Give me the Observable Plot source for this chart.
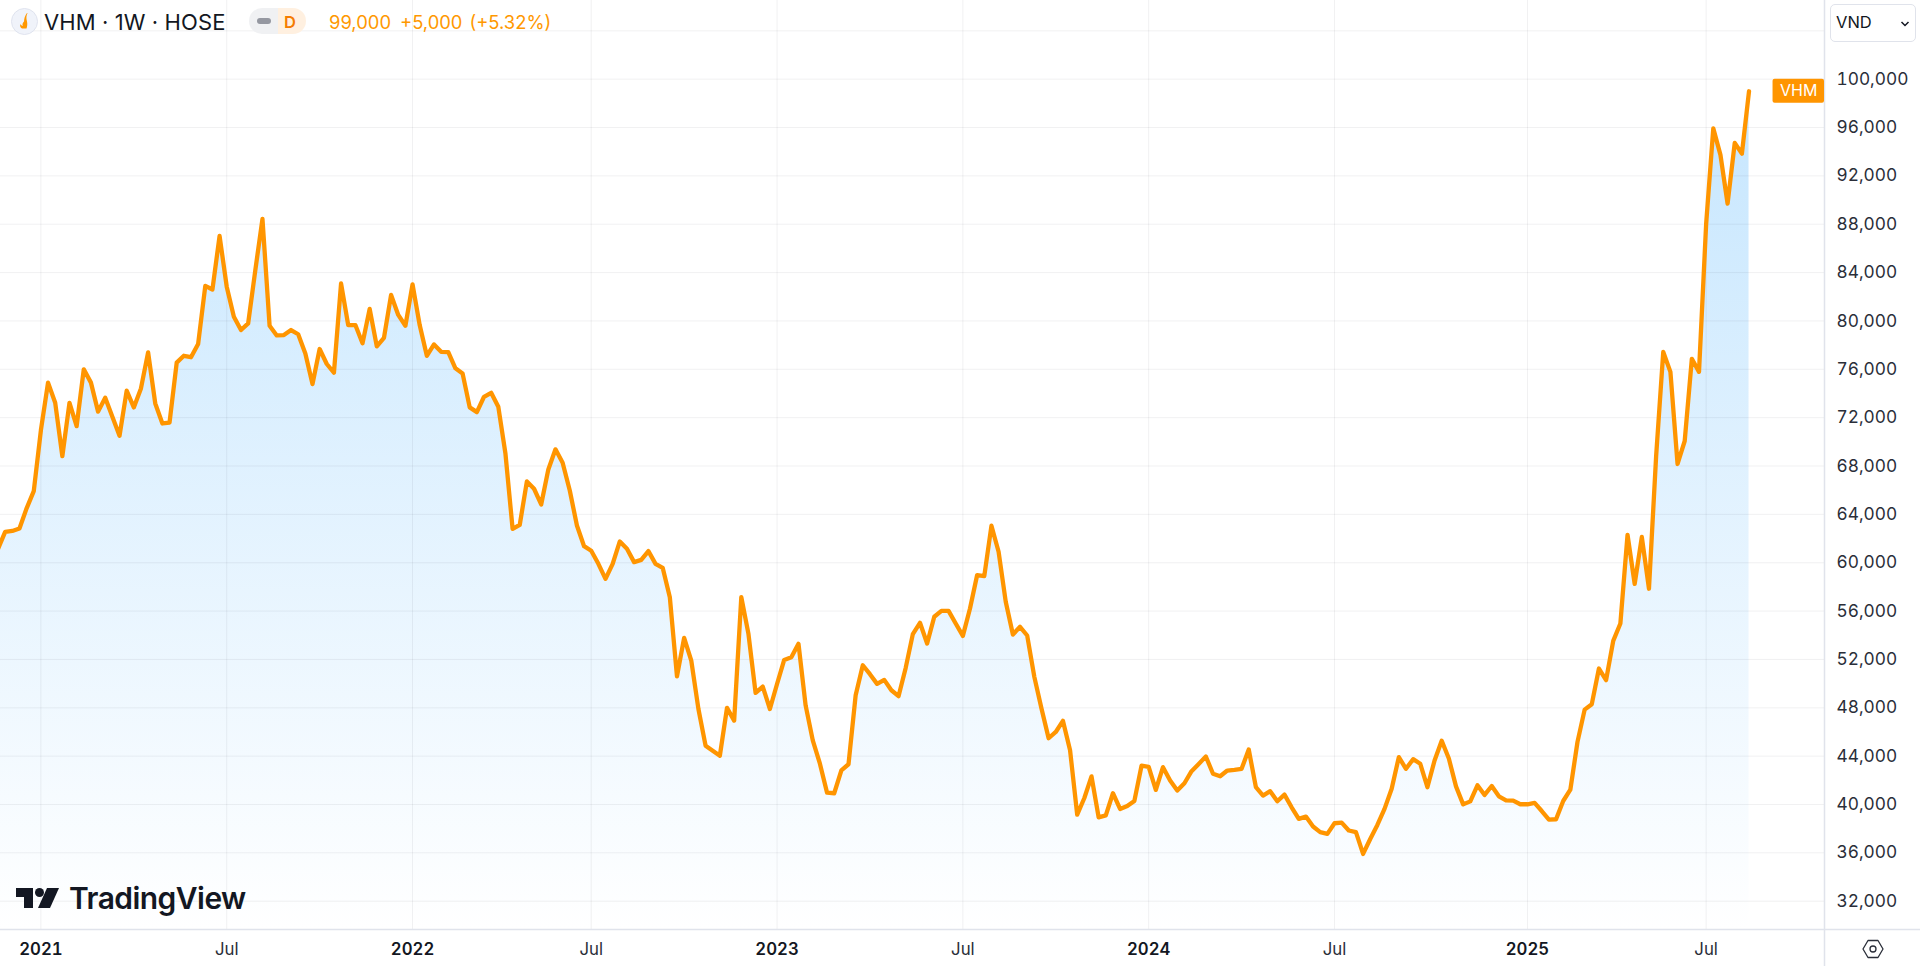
<!DOCTYPE html>
<html>
<head>
<meta charset="utf-8">
<script src="https://cdn.jsdelivr.net/npm/d3@7"></script>
<script src="https://cdn.jsdelivr.net/npm/@observablehq/plot@0.6"></script>
<style>
html,body{margin:0;padding:0;background:#fff;width:1920px;height:966px;overflow:hidden;font-family:Inter,"Noto Sans",sans-serif;color:#131722}
#chart{position:absolute;left:0;top:0}
.ov{position:absolute;white-space:nowrap}
</style>
</head>
<body>
<div id="chart"></div>
<svg class="ov" style="left:11px;top:8px" width="27" height="27" viewBox="0 0 27 27"><circle cx="13.500" cy="13.500" r="13" fill="#f0f3fa" stroke="#dfe3ee"/><path d="M16.500 5c-1.200 3-1.500 5-.5 8.500 .6 2.500 .2 5-.5 7h-4.500c-1.500-.8-2.500-2.500-1.500-4.500 .5 1.200 1.200 1.800 2.200 2-.5-1.800 0-3.300 1.300-4.500 .2-3 1-6 3-8.500z" fill="#ff9800"/></svg>
<div class="ov" style="left:44px;top:9px;font-size:22px;line-height:27px;letter-spacing:.1px;color:#131722">VHM · 1W · HOSE</div>
<div class="ov" style="left:249px;top:8px;width:57px;height:26px;border-radius:13px;background:linear-gradient(90deg,#f0f1f3 0 29px,#fff0e0 29px)"></div>
<div class="ov" style="left:257px;top:18px;width:14px;height:6px;border-radius:3px;background:#9598a1"></div>
<div class="ov" style="left:284px;top:9px;font-size:16.5px;line-height:26px;font-weight:600;color:#f57c00">D</div>
<div class="ov" style="left:329px;top:9px;font-size:18.4px;line-height:27px;color:#ff9800">99,000<span style="margin-left:9px">+5,000</span><span style="margin-left:7px">(+5.32%)</span></div>
<div class="ov" style="left:1830px;top:4px;width:84px;height:36px;border:1px solid #e0e3eb;border-radius:5px;background:#fff"></div>
<div class="ov" style="left:1836px;top:10px;font-size:16.5px;line-height:25px;color:#131722">VND</div>
<svg class="ov" style="left:1899px;top:19px" width="12" height="10" viewBox="0 0 12 10"><path d="M2.500 3l3.500 3.500L9.500 3" fill="none" stroke="#131722" stroke-width="1.500"/></svg>
<svg class="ov" style="left:16px;top:886px" width="44" height="24" viewBox="0 0 44 24"><path d="M0 2h17v20H8V11H0z" fill="#131722"/><circle cx="23.500" cy="6.500" r="4.500" fill="#131722"/><path d="M31 2h12l-9 20H22z" fill="#131722"/></svg>
<div class="ov" style="left:69px;top:880px;font-size:30px;line-height:36px;font-weight:600;letter-spacing:-.55px;color:#131722">TradingView</div>
<svg class="ov" style="left:1862px;top:938px" width="22" height="22" viewBox="0 0 22 22"><path d="M6 2.500h10L21 11l-5 8.500H6L1 11z" fill="none" stroke="#2a2e39" stroke-width="1.300" stroke-linejoin="round"/><circle cx="11" cy="11" r="3" fill="none" stroke="#2a2e39" stroke-width="1.300"/></svg>
<script>
// Weekly closes (VND), grouped by calendar year of the axis
const closes2020 = [61150,62550,62630,62830,64500,65920];
const closes2021 = [70970,74900,73230,68820,73230,71300,76000,74900,72500,73650,72080,70500,74230,72850,74420,77400,73180,71520,71600,76550,77120,77000,78100,82900,82600,87030,82840,80350,79250,79800,84200,88440,79600,78800,78830,79250,78900,77300,74780,77680,76440,75720,83100,79660,79660,78150,81000,77900,78600,82150,80500,79600];
const closes2022 = [83030,79660,77120,78060,77450,77430,76080,75660,72850,72460,73730,74060,72900,69020,62800,63140,66730,66120,64820,67720,69380,68270,65980,63080,61370,60990,59910,58670,59910,61760,61150,60050,60240,60960,59910,59580,57150,50600,53780,51900,47900,44870,44450,44040,47990,46940,57150,54110,49230,49750,47900];
const closes2023 = [49970,51960,52180,53290,48200,45300,43380,40980,40930,42830,43330,49040,51520,50780,49980,50310,49450,48960,51300,54090,55030,53320,55530,56020,56020,54970,53950,56220,58980,58900,63060,60910,56770,54060,54700,53980,50560,47940,45480,46000,46920,44490,39160,40540,42330,38940,39100,40930,39630,39880,40300,43210];
const closes2024 = [43120,41210,43090,41980,41160,41760,42760,43360,43970,42540,42340,42810,42870,42950,44550,41430,40740,41100,40270,40820,39770,38810,39000,38180,37710,37570,38450,38500,37850,37710,35910,37150,38310,39640,41300,43920,42950,43750,43370,41430,43640,45280,43800,41500,40010,40260,41590,40790,41530,40680,40350,40320,40020];
const closes2025 = [40020,40130,39460,38750,38780,40290,41230,45180,47850,48300,51250,50280,53540,54970,62300,58250,62130,57850,68800,77440,75790,68170,70070,76870,75790,88020,95930,93740,89710,94730,93840,99000];

const closes = [...closes2020,...closes2021,...closes2022,...closes2023,...closes2024,...closes2025];
const firstWeek = -closes2020.length;
const rows = closes.map((close,i)=>({week:firstWeek+i,close}));

// Axis ticks: weeks counted from the first bar of 2021
const yearWeeks = [0,52,103,155,208];
const yearLabels = ["2021","2022","2023","2024","2025"];
const julWeeks = [26,77,129,181,233];
const julLabels = ["Jul","Jul","Jul","Jul","Jul"];
const priceTicks = [32000,36000,40000,44000,48000,52000,56000,60000,64000,68000,72000,76000,80000,84000,88000,92000,96000,100000];
const gridPrices = [...priceTicks,104000];

const xDomain = [-5.653,249.56];
const yDomain = [29660,106510];
const lastRow = rows[rows.length-1];
const tagRow = [{x1:xDomain[1]-7.2,x2:xDomain[1],y1:lastRow.close-1000,y2:lastRow.close+1000,label:"VHM"}];

const defs = () => {
  const d = d3.create("svg:defs");
  const g = d.append("linearGradient").attr("id","areaFade").attr("x1",0).attr("x2",0).attr("y1",0).attr("y2",1);
  g.append("stop").attr("offset","0%").attr("stop-color","#c6e6fe");
  g.append("stop").attr("offset","100%").attr("stop-color","#ffffff");
  return d.node();
};

const gridStyle = {stroke:"#2a2e39",strokeOpacity:0.065,strokeWidth:1};
const lineColor = "#e0e3eb";
const font = 'Inter,"Noto Sans",sans-serif';

const plot = Plot.plot({
  width:1920,height:966,
  marginLeft:0,marginRight:96,marginTop:0,marginBottom:37,
  style:{fontFamily:font,background:"transparent",overflow:"visible"},
  x:{type:"linear",domain:xDomain,axis:null},
  y:{type:"linear",domain:yDomain,axis:null},
  marks:[
    defs,
    Plot.areaY(rows,{x:"week",y:"close",y1:yDomain[0],y2:"close",fill:"url(#areaFade)",curve:"linear"}),
    Plot.gridY(gridPrices,{...gridStyle}),
    Plot.gridX([...yearWeeks,...julWeeks],{...gridStyle}),
    Plot.ruleY([yDomain[0]],{stroke:lineColor,strokeWidth:1.5,insetRight:-96}),
    Plot.ruleX([xDomain[1]],{stroke:lineColor,strokeWidth:1.5,insetBottom:-37}),
    Plot.line(rows,{x:"week",y:"close",stroke:"#ff9500",strokeWidth:4.3,strokeLinejoin:"round",strokeLinecap:"round",curve:"linear"}),
    Plot.rect(tagRow,{x1:"x1",x2:"x2",y1:"y1",y2:"y2",fill:"#ff9500",r:2}),
    Plot.text(tagRow,{x:d=>(d.x1+d.x2)/2,y:lastRow.close,text:"label",fill:"#fff",fontSize:16}),
    Plot.axisY(priceTicks,{anchor:"right",label:null,tickSize:0,tickPadding:12,fontSize:17.3,fill:"#2a2e39",tickFormat:d3.format(",")}),
    Plot.axisX(yearWeeks,{anchor:"bottom",label:null,tickSize:0,tickPadding:14,fontSize:16.8,fontWeight:600,fill:"#131722",tickFormat:(d,i)=>yearLabels[yearWeeks.indexOf(d)]}),
    Plot.axisX(julWeeks,{anchor:"bottom",label:null,tickSize:0,tickPadding:14,fontSize:16.8,fill:"#2a2e39",tickFormat:(d,i)=>julLabels[julWeeks.indexOf(d)]})
  ]
});
document.getElementById("chart").append(plot);
</script>
</body>
</html>
